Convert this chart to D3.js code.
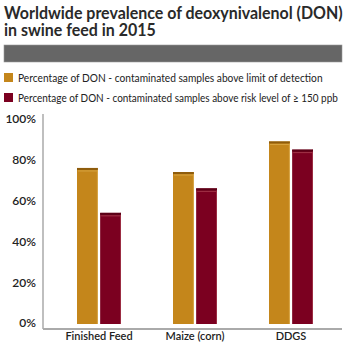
<!DOCTYPE html>
<html lang="en">
<head>
<meta charset="UTF-8">
<title>DON in swine feed</title>
<script src="https://d3js.org/d3.v7.min.js"></script>
<style>
  body { margin: 0; background: #fff; }
  svg { display: block; font-family: Lato, "DejaVu Sans", sans-serif; }
</style>
</head>
<body>
<div id="chart"></div>
<script>
const categories = ["Finished Feed", "Maize (corn)", "DDGS"];
const seriesNames = [
  "Percentage of DON - contaminated samples above limit of detection",
  "Percentage of DON - contaminated samples above risk level of \u2265 150 ppb"
];
const aboveDetection = [76, 74, 89];
const aboveRisk = [54, 66, 85];
const yTicks = [0, 20, 40, 60, 80, 100];
const titleLines = ["Worldwide prevalence of deoxynivalenol (DON)", "in swine feed in 2015"];

const w = 357, h = 350;
const colors = ["#c4861b", "#7b0020"];
const topColors = ["#8e5c0c", "#5a0016"];
const hiColors = ["#e0b050", "#b04a5a"];

const svg = d3.select("#chart").append("svg")
  .attr("width", w).attr("height", h);

// squeeze a text horizontally so it ends up `target` px wide
function fitWidth(sel, target) {
  sel.each(function(d, i) {
    const t = typeof target === "function" ? target(d, i) : target;
    const x0 = +this.getAttribute("x") || 0;
    const y0 = +this.getAttribute("y") || 0;
    const k = Math.min(1, t / this.getComputedTextLength());
    this.setAttribute("x", 0);
    this.setAttribute("y", 0);
    this.setAttribute("transform", `translate(${x0},${y0}) scale(${k},1)`);
  });
}

// title: one text, two lines, squeezed together
const title = svg.append("text")
  .attr("fill", "#2a2a2a")
  .style("font-size", "17px")
  .style("font-weight", "bold");
title.selectAll("tspan")
  .data(titleLines)
  .join("tspan")
  .attr("x", 0)
  .attr("y", (d, i) => i * 17)
  .text(d => d);
const t0 = title.select("tspan").node().getComputedTextLength();
title.attr("transform", `translate(4,19) scale(${339 / t0},1)`);

// gray band
svg.append("rect")
  .attr("x", 4).attr("y", 45).attr("width", 338).attr("height", 17)
  .attr("fill", "#666").attr("stroke", "#999").attr("stroke-width", 0.6);

// legend
const legend = svg.append("g").selectAll("g")
  .data(seriesNames)
  .join("g")
  .attr("transform", (d, i) => `translate(4,${73 + i * 20})`);
legend.append("rect")
  .attr("width", 9).attr("height", 9)
  .attr("fill", (d, i) => colors[i]);
legend.append("text")
  .attr("x", 14).attr("y", 8.5)
  .attr("fill", "#222")
  .style("font-size", "11px")
  .text(d => d)
  .call(fitWidth, (d, i) => i === 0 ? 305 : 320);

// scales
const y = d3.scaleLinear().domain([0, 100]).range([323, 119]);
const x = d3.scaleBand().domain(categories).range([51, 339]);
const xs = d3.scaleBand().domain([0, 1]).range([0, 44]).paddingInner(0.1);

// y axis labels
const yAxis = svg.append("g")
  .attr("transform", "translate(36,0)")
  .call(d3.axisLeft(y).tickValues(yTicks).tickFormat(d => d + "%").tickSize(0).tickPadding(0));
yAxis.select(".domain").remove();
yAxis.selectAll("text")
  .attr("fill", "#222")
  .style("font-size", "12px")
  .style("font-weight", "600")
  .style("font-family", "Lato, sans-serif");

// axis lines
svg.append("line")
  .attr("x1", 43).attr("x2", 43).attr("y1", 114).attr("y2", 329)
  .attr("stroke", "#aaa").attr("stroke-width", 1.5);
svg.append("line")
  .attr("x1", 43).attr("x2", 342).attr("y1", 329).attr("y2", 329)
  .attr("stroke", "#aaa").attr("stroke-width", 2);

// x labels
const xAxis = svg.append("g")
  .attr("transform", "translate(0,332)")
  .call(d3.axisBottom(x).tickSize(0).tickPadding(0));
xAxis.select(".domain").remove();
xAxis.selectAll("text")
  .attr("dy", "0.75em")
  .attr("fill", "#222")
  .style("font-size", "11px")
  .style("font-family", "Lato, sans-serif")
  .style("font-weight", "600");

// bars
const rows = categories.map((c, i) => [aboveDetection[i], aboveRisk[i]].map((v, s) => ({ c, s, v })));
const bars = svg.append("g").selectAll("g")
  .data(rows.flat())
  .join("g")
  .attr("transform", d => `translate(${x(d.c) + (x.bandwidth() - 44) / 2 + xs(d.s)},0)`);

bars.append("rect")
  .attr("y", d => y(d.v))
  .attr("width", xs.bandwidth())
  .attr("height", d => y(0) + 1 - y(d.v))
  .attr("fill", d => colors[d.s]);
bars.append("rect")
  .attr("x", xs.bandwidth() - 1)
  .attr("y", d => y(d.v))
  .attr("width", 1)
  .attr("height", d => y(0) + 1 - y(d.v))
  .attr("fill", d => hiColors[d.s])
  .attr("opacity", 0.6);
bars.append("rect")
  .attr("y", d => y(d.v))
  .attr("width", xs.bandwidth())
  .attr("height", 2)
  .attr("fill", d => topColors[d.s]);
bars.append("rect")
  .attr("x", 1)
  .attr("y", d => y(d.v) + 2.5)
  .attr("width", xs.bandwidth() - 2)
  .attr("height", 1)
  .attr("fill", d => hiColors[d.s])
  .attr("opacity", 0.7);
</script>
</body>
</html>
